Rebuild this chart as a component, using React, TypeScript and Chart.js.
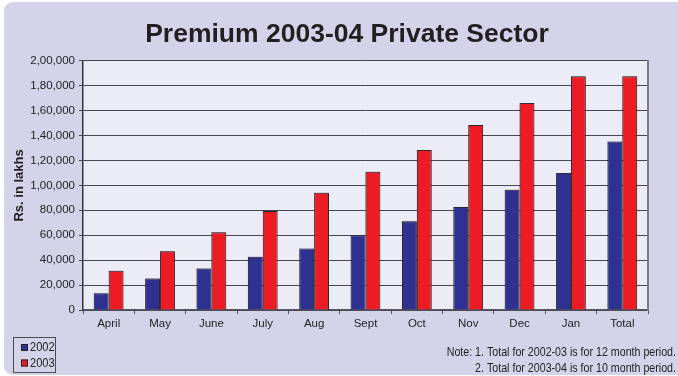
import React, { useEffect, useRef } from "react";
import { Chart, registerables } from "chart.js";

Chart.register(...registerables);

const categories = ["April", "May", "June", "July", "Aug", "Sept", "Oct", "Nov", "Dec", "Jan", "Total"];
const series2002 = [13500, 25300, 33300, 42700, 49300, 60000, 71200, 82700, 96500, 109900, 135200];
const series2003 = [31500, 47200, 62400, 79500, 94100, 110900, 128500, 148500, 166100, 187700, 187700];
const seriesLabels = ["2002", "2003"];
const yTickLabels = ["0", "20,000", "40,000", "60,000", "80,000", "1,00,000", "1,20,000", "1,40,000", "1,60,000", "1,80,000", "2,00,000"];
const titleText = "Premium 2003-04 Private Sector";
const yTitleText = "Rs. in lakhs";
const noteLines = ["Note: 1. Total for 2002-03 is for 12 month period.", "2. Total for 2003-04 is for 10 month period."];

const MAIN_FONT = "'Liberation Sans', Arial, sans-serif";

function narrowText(ctx: any, text: string, x: number, y: number, align: string, sx: number) {
  ctx.save();
  ctx.translate(x, y);
  ctx.scale(sx, 1);
  ctx.textAlign = align;
  ctx.fillText(text, 0, 0);
  ctx.restore();
}

const backgroundPlugin = {
  id: "panelBackground",
  beforeDraw(chart: any) {
    const { ctx, chartArea } = chart;
    ctx.save();
    ctx.fillStyle = "#ffffff";
    ctx.fillRect(0, 0, chart.width, chart.height);
    ctx.fillStyle = "#d4d3ea";
    ctx.beginPath();
    (ctx as any).roundRect(4, 2, chart.width + 20, chart.height - 3, 9);
    ctx.fill();
    ctx.fillStyle = "#ececf6";
    ctx.fillRect(chartArea.left, chartArea.top, chartArea.right - chartArea.left, chartArea.bottom - chartArea.top);
    ctx.restore();
  },
};

const barShadowPlugin = {
  id: "barShadow",
  beforeDatasetsDraw(chart: any) {
    const ctx = chart.ctx;
    ctx.save();
    ctx.shadowColor = "rgba(60,60,70,0.45)";
    ctx.shadowBlur = 1;
    ctx.shadowOffsetX = -1;
    ctx.shadowOffsetY = -1;
  },
  afterDatasetsDraw(chart: any) {
    chart.ctx.restore();
  },
};

const legendNotePlugin = {
  id: "legendNote",
  afterDraw(chart: any) {
    const { ctx } = chart;
    ctx.save();
    const bx = 13, by = 337, bw = 42, bh = 35;
    ctx.strokeStyle = "#4a4a55";
    ctx.lineWidth = 1;
    ctx.strokeRect(bx + 0.5, by + 0.5, bw, bh);
    ctx.font = `13.5px ${MAIN_FONT}`;
    ctx.textBaseline = "middle";
    chart.data.datasets.forEach((ds: any, i: number) => {
      const cy = by + 10 + i * 15.5;
      ctx.fillStyle = ds.backgroundColor;
      ctx.fillRect(bx + 8, cy - 3, 7, 7);
      ctx.strokeStyle = "#222";
      ctx.strokeRect(bx + 8.5, cy - 2.5, 6, 6);
      ctx.fillStyle = "#222";
      narrowText(ctx, ds.label, bx + 17, cy + 0.5, "left", 0.82);
    });
    ctx.font = `13px ${MAIN_FONT}`;
    ctx.fillStyle = "#222";
    noteLines.forEach((line, i) => {
      narrowText(ctx, line, 676, 352 + i * 16.5, "right", 0.82);
    });
    ctx.restore();
  },
};

export default function App() {
  const canvasRef = useRef<HTMLCanvasElement | null>(null);

  useEffect(() => {
    if (!canvasRef.current) return;
    const chart = new Chart(canvasRef.current, {
      type: "bar",
      data: {
        labels: categories,
        datasets: [
          {
            label: seriesLabels[0],
            data: series2002,
            backgroundColor: "#2e3192",
            borderColor: "#22222a",
            borderWidth: 1,
            categoryPercentage: 0.58,
            barPercentage: 1,
          },
          {
            label: seriesLabels[1],
            data: series2003,
            backgroundColor: "#ed1c24",
            borderColor: "#22222a",
            borderWidth: 1,
            categoryPercentage: 0.58,
            barPercentage: 1,
          },
        ],
      },
      options: {
        responsive: false,
        animation: false,
        layout: { padding: { left: 16, right: 0, top: 0, bottom: 0 } },
        plugins: {
          legend: { display: false },
          tooltip: { enabled: false },
          title: {
            display: true,
            text: titleText,
            color: "#231f20",
            font: { family: MAIN_FONT, size: 26.5, weight: "bold" },
            padding: { top: 19, bottom: 10 },
          },
        },
        scales: {
          x: {
            grid: { drawOnChartArea: false, drawTicks: true, tickLength: 4, color: "#555", offset: true },
            border: { color: "#555560", width: 1.5 },
            ticks: { color: "#222", font: { family: MAIN_FONT, size: 11.5 }, padding: 3 },
            afterFit(scale: any) {
              scale.height = 66;
            },
          },
          y: {
            min: 0,
            max: 200000,
            ticks: {
              stepSize: 20000,
              color: "#222",
              font: { family: MAIN_FONT, size: 11.5 },
              padding: 4,
              callback: (_v: any, i: number) => yTickLabels[i],
            },
            grid: { color: "#45454d", lineWidth: 1, tickLength: 4 },
            border: { color: "#33333a", width: 1.5 },
            title: {
              display: true,
              text: yTitleText,
              color: "#231f20",
              font: { family: MAIN_FONT, size: 13, weight: "bold" },
              padding: { top: -4, bottom: 0 },
            },
            afterFit(scale: any) {
              scale.width = 67;
            },
          },
          y2: {
            position: "right",
            min: 0,
            max: 200000,
            grid: { drawOnChartArea: false, drawTicks: false },
            border: { display: true, color: "#7a7a84", width: 2 },
            ticks: { display: false },
            afterFit(scale: any) {
              scale.width = 30;
            },
          },
        },
      },
      plugins: [backgroundPlugin, barShadowPlugin, legendNotePlugin],
    });
    return () => chart.destroy();
  }, []);

  return (
    <div style={{ position: "absolute", left: 0, top: 0, width: 678, height: 376 }}>
      <canvas ref={canvasRef} width={678} height={376} style={{ display: "block" }} />
    </div>
  );
}
